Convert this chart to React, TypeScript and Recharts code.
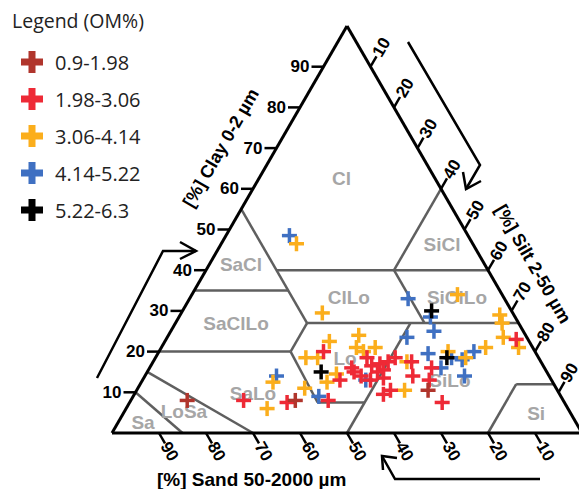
import React from 'react';
import { ScatterChart, Scatter, XAxis, YAxis, ReferenceLine, ReferenceDot } from 'recharts';

// ---------- data (clay %, silt %) ----------
const seriesNames = ['0.9-1.98', '1.98-3.06', '3.06-4.14', '4.14-5.22', '5.22-6.3'];
const seriesColors = ['#B0352C', '#EE2A36', '#FBAE1C', '#3F70C2', '#000000'];

const clayOM1 = [8, 8, 10.5];
const siltOM1 = [12, 35, 62];

const clayOM2 = [20, 13, 8, 7.5, 8, 15, 14, 18.5, 16.5, 17, 13.5, 9.5, 17.5, 18.5, 15.5, 10.5, 14, 16, 13, 7.5, 23, 16, 13, 17.5, 15];
const siltOM2 = [35, 42, 24, 33.5, 42, 44, 46, 45, 47, 48.5, 51, 53, 50, 51, 50, 54, 57, 60, 61, 66.5, 74.5, 43, 48.5, 55, 49];

const clayOM3 = [46.5, 29.5, 22.5, 18.5, 18.5, 14.5, 12.5, 12.5, 11, 6, 24, 21, 20, 21, 17.5, 10.5, 20, 18.5, 34, 29, 27, 21, 23.5, 21];
const siltOM3 = [16, 30, 35, 32, 34.5, 40.5, 39.5, 28, 35.5, 30, 40.5, 41.5, 43.5, 45.5, 54, 57, 61.5, 66, 56.5, 68, 69.5, 69, 71.5, 76];

const clayOM4 = [48.5, 14, 9, 13, 33, 28.5, 25, 23.5, 19.5, 16, 18.5, 18, 20, 14];
const siltOM4 = [13.5, 28, 39.5, 47.5, 46.5, 53.5, 56, 51, 57.5, 62, 63, 65.5, 67, 68];

const clayOM5 = [15, 30, 18.5];
const siltOM5 = [37, 53, 62];

const tickValues = [10, 20, 30, 40, 50, 60, 70, 80, 90];

// texture class boundaries: [clayA, siltA, clayB, siltB]
const outline: number[][] = [
  [0, 0, 0, 100],
  [0, 100, 100, 0],
  [100, 0, 0, 0],
];
const boundaries: number[][] = [
  [0, 15, 10, 0],
  [0, 30, 15, 0],
  [20, 0, 20, 28],
  [20, 28, 27, 28],
  [20, 28, 7.5, 40],
  [7.5, 40, 7.5, 50],
  [0, 50, 27, 50],
  [35, 0, 35, 20],
  [55, 0, 27, 28],
  [40, 15, 40, 60],
  [27, 28, 27, 73],
  [40, 40, 27, 53],
  [40, 40, 60, 40],
  [0, 80, 12, 80],
  [12, 80, 12, 88],
];

// texture class labels: [name, clay, silt]
const classLabels: [string, number, number][] = [
  ['Cl', 62.5, 17.6],
  ['SiCl', 46.2, 47.1],
  ['SaCl', 41.3, 6.8],
  ['ClLo', 33.4, 33.7],
  ['SiClLo', 33.4, 56.7],
  ['SaClLo', 26.8, 13.0],
  ['Lo', 18.4, 40.4],
  ['SiLo', 13.0, 65.4],
  ['SaLo', 9.8, 25.1],
  ['LoSa', 5.2, 12.7],
  ['Sa', 2.7, 5.25],
  ['Si', 4.9, 87.8],
];

// ---------- helpers ----------
const toXY = (clay: number, silt: number) => ({ x: silt + clay / 2, y: clay });
const build = (clay: number[], silt: number[]) => clay.map((c, i) => toXY(c, silt[i]));

const seriesData = [
  build(clayOM1, siltOM1),
  build(clayOM2, siltOM2),
  build(clayOM3, siltOM3),
  build(clayOM4, siltOM4),
  build(clayOM5, siltOM5),
];
const drawOrder = [3, 2, 1, 0, 4];

const AXIS_FONT = 'Liberation Sans, Arial, sans-serif';
const LEGEND_FONT = 'Open Sans, sans-serif';

const plusShape = (color: string) => (props: any) => {
  const { cx, cy } = props;
  const h = 7.5;
  return (
    <g>
      <line x1={cx - h} y1={cy} x2={cx + h} y2={cy} stroke={color} strokeWidth={3.5} />
      <line x1={cx} y1={cy - h} x2={cx} y2={cy + h} stroke={color} strokeWidth={3.5} />
    </g>
  );
};

const clayTick = (label: number) => (props: any) => {
  const { cx, cy } = props;
  return (
    <g>
      <line x1={cx - 12} y1={cy} x2={cx} y2={cy} stroke="#000" strokeWidth={2.5} />
      <text x={cx - 14} y={cy} textAnchor="end" dominantBaseline="central"
        fontFamily={AXIS_FONT} fontWeight="bold" fontSize={17} fill="#000">{label}</text>
    </g>
  );
};

const sandTick = (label: number) => (props: any) => {
  const { cx, cy } = props;
  const tx = cx + 10.5, ty = cy + 18.5;
  return (
    <g>
      <line x1={cx} y1={cy} x2={cx + 6} y2={cy + 10.4} stroke="#000" strokeWidth={2.5} />
      <text x={tx} y={ty} textAnchor="middle" dominantBaseline="central" transform={`rotate(60 ${tx} ${ty})`}
        fontFamily={AXIS_FONT} fontWeight="bold" fontSize={17} fill="#000">{label}</text>
    </g>
  );
};

const siltTick = (label: number) => (props: any) => {
  const { cx, cy } = props;
  const tx = cx + 11, ty = cy - 19.5;
  return (
    <g>
      <line x1={cx} y1={cy} x2={cx + 6} y2={cy - 10.4} stroke="#000" strokeWidth={2.5} />
      <text x={tx} y={ty} textAnchor="middle" dominantBaseline="central" transform={`rotate(-60 ${tx} ${ty})`}
        fontFamily={AXIS_FONT} fontWeight="bold" fontSize={17} fill="#000">{label}</text>
    </g>
  );
};

const classLabel = (name: string) => (props: any) => {
  const { cx, cy } = props;
  return (
    <text x={cx} y={cy} textAnchor="middle" dominantBaseline="central"
      fontFamily={AXIS_FONT} fontWeight="bold" fontSize={19} fill="#A6A6A6">{name}</text>
  );
};

const seg = (b: number[]) => [toXY(b[0], b[1]), toXY(b[2], b[3])];

export default function App() {
  return (
    <div style={{ position: 'absolute', left: 0, top: 0, width: 579, height: 489, overflow: 'hidden', background: '#fff' }}>
      <ScatterChart width={582} height={489} margin={{ top: 26, right: 0, bottom: 56, left: 112 }}>
        <XAxis type="number" dataKey="x" domain={[0, 100]} allowDataOverflow hide />
        <YAxis type="number" dataKey="y" domain={[0, 100]} allowDataOverflow hide />
        {boundaries.map((b, i) => (
          <ReferenceLine key={'b' + i} segment={seg(b)} stroke="#5F5F5F" strokeWidth={2.5} ifOverflow="visible" />
        ))}
        {outline.map((b, i) => (
          <ReferenceLine key={'o' + i} segment={seg(b)} stroke="#000" strokeWidth={3} ifOverflow="visible" />
        ))}
        {classLabels.map(([n, c, s]) => (
          <ReferenceDot key={'l' + n} {...toXY(c, s)} r={1} ifOverflow="visible" shape={classLabel(n)} />
        ))}
        {tickValues.map((v) => (
          <ReferenceDot key={'c' + v} {...toXY(v, 0)} r={1} ifOverflow="visible" shape={clayTick(v)} />
        ))}
        {tickValues.map((v) => (
          <ReferenceDot key={'s' + v} {...toXY(0, 100 - v)} r={1} ifOverflow="visible" shape={sandTick(v)} />
        ))}
        {tickValues.map((v) => (
          <ReferenceDot key={'t' + v} {...toXY(100 - v, v)} r={1} ifOverflow="visible" shape={siltTick(v)} />
        ))}
        {drawOrder.map((k) => (
          <Scatter key={'p' + k} name={seriesNames[k]} data={seriesData[k]} fill={seriesColors[k]}
            isAnimationActive={false} shape={plusShape(seriesColors[k])} />
        ))}
      </ScatterChart>
      <svg width={579} height={489} style={{ position: 'absolute', left: 0, top: 0, pointerEvents: 'none' }}>
        {/* legend */}
        <text x={12} y={20} dominantBaseline="central" fontFamily={LEGEND_FONT} fontSize={19.5} fill="#222">Legend (OM%)</text>
        {seriesNames.map((n, i) => {
          const cy = 62 + i * 37;
          return (
            <g key={n}>
              <rect x={21} y={cy - 3.5} width={22} height={7} fill={seriesColors[i]} />
              <rect x={28.5} y={cy - 11} width={7} height={22} fill={seriesColors[i]} />
              <text x={55} y={cy} dominantBaseline="central" fontFamily={LEGEND_FONT} fontSize={20} fill="#222">{n}</text>
            </g>
          );
        })}
        {/* axis titles */}
        <text x={221} y={148} textAnchor="middle" dominantBaseline="central" transform="rotate(-60 221 148)"
          fontFamily={AXIS_FONT} fontWeight="bold" fontSize={18} fill="#000">[%] Clay 0-2 µm</text>
        <text x={533} y={264} textAnchor="middle" dominantBaseline="central" transform="rotate(60 533 264)"
          fontFamily={AXIS_FONT} fontWeight="bold" fontSize={18} fill="#000">[%] Silt 2-50 µm</text>
        <text x={157} y={479} dominantBaseline="central"
          fontFamily={AXIS_FONT} fontWeight="bold" fontSize={19} fill="#000">[%] Sand 50-2000 µm</text>
        {/* arrows */}
        <g fill="none" stroke="#000" strokeWidth={2.5} strokeLinejoin="miter">
          <polyline points="97,378 163,251 196,251" />
          <polyline points="180,242 196,251 180,259" />
          <polyline points="408,42 480,165 466,189" />
          <polyline points="463,172 466,189 481,181" />
          <polyline points="540,479 395,479 382,456" />
          <polyline points="383,470 382,456 397,458" />
        </g>
      </svg>
    </div>
  );
}
